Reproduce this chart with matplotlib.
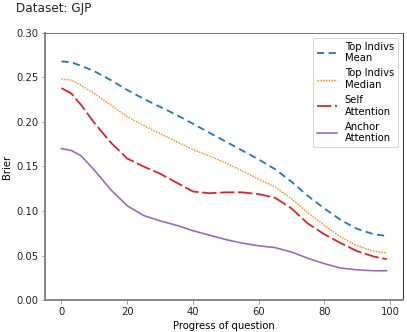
"""
Brier score over the progress of a question, GJP dataset
"""

import numpy as np
import matplotlib
matplotlib.use("Agg")
import matplotlib.pyplot as plt

# progress of question (%)
progress = [0, 3, 6, 10, 15, 20, 25, 30, 35, 40, 45, 50, 55, 60, 65, 70, 75, 80, 85, 90, 95, 99]

# brier scores
top_mean = [0.268, 0.267, 0.263, 0.257, 0.247, 0.236, 0.226, 0.217, 0.208, 0.198, 0.188,
            0.178, 0.168, 0.158, 0.147, 0.133, 0.117, 0.103, 0.090, 0.080, 0.074, 0.072]
top_median = [0.248, 0.247, 0.241, 0.232, 0.219, 0.206, 0.196, 0.187, 0.178, 0.169, 0.162,
              0.154, 0.145, 0.136, 0.127, 0.114, 0.098, 0.084, 0.071, 0.061, 0.055, 0.053]
self_att = [0.238, 0.232, 0.219, 0.199, 0.177, 0.159, 0.150, 0.142, 0.132, 0.122, 0.120,
            0.121, 0.121, 0.119, 0.115, 0.103, 0.086, 0.074, 0.064, 0.055, 0.049, 0.046]
anchor_att = [0.170, 0.168, 0.162, 0.146, 0.124, 0.106, 0.095, 0.089, 0.084, 0.078, 0.073,
              0.068, 0.064, 0.061, 0.059, 0.054, 0.047, 0.041, 0.036, 0.034, 0.033, 0.033]

labels = ["Top Indivs\nMean", "Top Indivs\nMedian", "Self\nAttention", "Anchor\nAttention"]
colors = ["#1f77b4", "#ff7f0e", "#d62728", "#9467bd"]
styles = [(0, (4, 2.5)), (0, (1, 1)), (0, (8, 2)), "-"]
widths = [1.8, 1.4, 1.8, 1.6]

fig = plt.figure(figsize=(407 / 72, 332 / 72), dpi=72)
ax = fig.add_axes([0.111, 0.096, 0.879, 0.805])

series = [top_mean, top_median, self_att, anchor_att]
for j in range(len(series)):
    ax.plot(progress, series[j], color=colors[j], linestyle=styles[j], linewidth=widths[j], label=labels[j])

ax.set_ylim(0, 0.30)
ax.set_yticks(np.arange(0, 0.31, 0.05))
ax.set_xticks([0, 20, 40, 60, 80, 100])
ax.set_xlabel("Progress of question", fontsize=10)
ax.set_ylabel("Brier", fontsize=10)

# spine look
for side in ["left", "bottom"]:
    ax.spines[side].set_color("#888888")
    ax.spines[side].set_linewidth(2)
ax.spines["top"].set_color("#555555")
ax.tick_params(colors="#888888", labelcolor="#222222", labelsize=10)

ax.legend(loc="upper right", fontsize=10)

fig.text(0.04, 0.995, "Dataset: GJP", fontsize=12, va="top", ha="left", color="#222222")

plt.savefig("out.png", dpi=72)
